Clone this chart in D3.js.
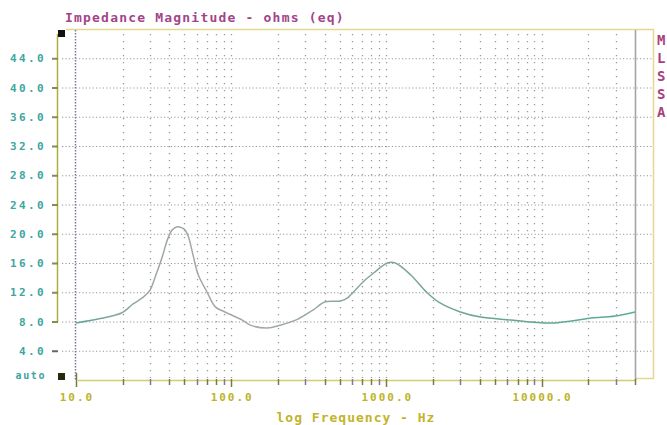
<!DOCTYPE html>
<html>
<head>
<meta charset="utf-8">
<script src="https://cdn.jsdelivr.net/npm/d3@7"></script>
<style>
body { margin: 0; background: #fff; }
text { font-family: "DejaVu Sans Mono", "Liberation Mono", monospace; font-weight: bold; }
</style>
</head>
<body>
<script>
// impedance curve
var freq = [10, 14.3, 19.8, 23.3, 27, 30, 32.5, 35.9, 39, 41.6, 44, 47, 50, 53, 56.9, 61.3, 70, 79, 91, 118, 133, 171,
    207, 267, 338, 404, 505, 560, 604, 732, 824, 1015, 1140, 1430, 1840, 2230, 3000, 4040, 6310, 8880, 11950,
    21650, 30920, 40000];
var ohms = [7.8, 8.4, 9.2, 10.4, 11.3, 12.3, 14.2, 16.8, 19.3, 20.5, 20.9, 20.9, 20.6, 19.6, 17.0, 14.4, 12.0, 10.0, 9.3, 8.2, 7.5, 7.1,
    7.5, 8.3, 9.6, 10.7, 10.8, 11.2, 11.9, 13.7, 14.6, 16.0, 16.0, 14.4, 11.9, 10.5, 9.3, 8.6, 8.2, 7.9, 7.8,
    8.5, 8.8, 9.3];

var yTicks = [4, 8, 12, 16, 20, 24, 28, 32, 36, 40, 44];
var xMajor = [10, 100, 1000, 10000];
var legendLetters = ['M', 'L', 'S', 'S', 'A'];

var width = 667, height = 425;

var svg = d3.select('body').append('svg')
    .attr('width', width)
    .attr('height', height);

var x = d3.scaleLog()
    .domain([10, 40000])
    .range([76, 635]);

var y = d3.scaleLinear()
    .domain([0, 48])
    .range([380, 29]);

var olive = '#aeae3c';
var grid = '#999999';

// outer frame (top and right)
svg.append('path')
    .attr('d', 'M66,29.5H653.5V378.5H636')
    .attr('fill', 'none')
    .attr('stroke', '#e2d890')
    .attr('stroke-width', 1.5);

// horizontal grid
svg.selectAll('.hgrid')
    .data(yTicks)
    .enter().append('line')
    .attr('class', 'hgrid')
    .attr('x1', 62).attr('x2', 652)
    .attr('y1', function(d) { return y(d) + 0.5; })
    .attr('y2', function(d) { return y(d) + 0.5; })
    .attr('stroke', grid)
    .attr('stroke-width', 1.2)
    .attr('stroke-dasharray', '1.2,2.2');

// vertical grid at every log tick
var xt = x.ticks().filter(function(d) { return d > 10 && d < 40000; });
svg.selectAll('.vgrid')
    .data(xt)
    .enter().append('line')
    .attr('class', 'vgrid')
    .attr('x1', function(d) { return Math.round(x(d)) + 0.5; })
    .attr('x2', function(d) { return Math.round(x(d)) + 0.5; })
    .attr('y1', 34).attr('y2', 378)
    .attr('stroke', grid)
    .attr('stroke-width', 1.3)
    .attr('stroke-dasharray', '1.3,5.7');

// left border of the plot (dense dots) and right edge line
svg.append('line')
    .attr('x1', 75.5).attr('x2', 75.5)
    .attr('y1', 30).attr('y2', 380)
    .attr('stroke', '#7a7890')
    .attr('stroke-width', 1.5)
    .attr('stroke-dasharray', '1.5,1.5');

svg.append('line')
    .attr('x1', x(40000) + 0.5).attr('x2', x(40000) + 0.5)
    .attr('y1', 30).attr('y2', 380)
    .attr('stroke', '#a4a4a4')
    .attr('stroke-width', 1.6);

// y axis line with ticks
svg.append('line')
    .attr('x1', 57.5).attr('x2', 57.5)
    .attr('y1', 34).attr('y2', y(8) + 1)
    .attr('stroke', olive)
    .attr('stroke-width', 1.5);

svg.selectAll('.ytick')
    .data(yTicks)
    .enter().append('line')
    .attr('class', 'ytick')
    .attr('x1', 52).attr('x2', 58)
    .attr('y1', function(d) { return y(d) + 0.5; })
    .attr('y2', function(d) { return y(d) + 0.5; })
    .attr('stroke', function(d) { return d === 4 ? '#666' : '#7f8f52'; })
    .attr('stroke-width', 2);

svg.selectAll('.ylab')
    .data(yTicks)
    .enter().append('text')
    .attr('class', 'ylab')
    .attr('x', 46)
    .attr('y', function(d) { return y(d) + 4; })
    .attr('text-anchor', 'end')
    .attr('fill', '#3ea6a0')
    .style('font-size', '11px')
    .style('letter-spacing', '2.4px')
    .text(function(d) { return d3.format('.1f')(d); });

svg.append('text')
    .attr('x', 46).attr('y', y(0) - 1)
    .attr('text-anchor', 'end')
    .attr('fill', '#3ea6a0')
    .style('font-size', '10px')
    .style('letter-spacing', '1.6px')
    .text('auto');

// black end markers
svg.append('rect').attr('x', 58).attr('y', 30).attr('width', 7).attr('height', 7).attr('fill', '#111');
svg.append('rect').attr('x', 58).attr('y', 373).attr('width', 7).attr('height', 7).attr('fill', '#222a10');

// x axis line and ticks
svg.append('line')
    .attr('x1', 78).attr('x2', x(40000))
    .attr('y1', 380.5).attr('y2', 380.5)
    .attr('stroke', '#d4cc70')
    .attr('stroke-width', 1.5);

svg.selectAll('.xtick')
    .data(x.ticks())
    .enter().append('line')
    .attr('class', 'xtick')
    .attr('x1', function(d) { return Math.round(x(d)) + 0.5; })
    .attr('x2', function(d) { return Math.round(x(d)) + 0.5; })
    .attr('y1', function(d) { return d === 10 ? 373 : 379; })
    .attr('y2', function(d) { return xMajor.indexOf(d) >= 0 ? 387 : 385; })
    .attr('stroke', function(d, i) { return i % 3 === 2 ? '#8a72a0' : '#7c7a44'; })
    .attr('stroke-width', 1.5);

svg.selectAll('.xlab')
    .data(xMajor)
    .enter().append('text')
    .attr('class', 'xlab')
    .attr('x', function(d) { return x(d) + 1; })
    .attr('y', 401)
    .attr('text-anchor', 'middle')
    .attr('fill', '#bcb428')
    .style('font-size', '11px')
    .style('letter-spacing', '2px')
    .text(function(d) { return d3.format('.1f')(d); });

svg.append('text')
    .attr('x', 356).attr('y', 422)
    .attr('text-anchor', 'middle')
    .attr('fill', '#c2b42a')
    .style('font-size', '13px')
    .style('letter-spacing', '1px')
    .text('log Frequency - Hz');

// title
svg.append('text')
    .attr('x', 65).attr('y', 22)
    .attr('fill', '#a2448a')
    .style('font-size', '13px')
    .style('letter-spacing', '1.2px')
    .text('Impedance Magnitude - ohms (eq)');

// legend letters on the right
svg.selectAll('.leg')
    .data(legendLetters)
    .enter().append('text')
    .attr('class', 'leg')
    .attr('x', 657)
    .attr('y', function(d, i) { return 45 + i * 18; })
    .attr('fill', '#a8407e')
    .style('font-size', '14px')
    .text(function(d) { return d; });

// curve
var grad = svg.append('defs').append('linearGradient')
    .attr('id', 'cg')
    .attr('gradientUnits', 'userSpaceOnUse')
    .attr('x1', x(10)).attr('x2', x(40000))
    .attr('y1', 0).attr('y2', 0);
grad.append('stop').attr('offset', '0').attr('stop-color', '#62a49a');
grad.append('stop').attr('offset', '0.12').attr('stop-color', '#9aa8a4');
grad.append('stop').attr('offset', '0.3').attr('stop-color', '#a8a8a8');
grad.append('stop').attr('offset', '0.5').attr('stop-color', '#8aa89c');
grad.append('stop').attr('offset', '0.7').attr('stop-color', '#6aa494');
grad.append('stop').attr('offset', '1').attr('stop-color', '#58ac9a');

var line = d3.line()
    .x(function(d, i) { return x(freq[i]); })
    .y(function(d) { return y(d); })
    .curve(d3.curveCatmullRom.alpha(0.5));

svg.append('path')
    .datum(ohms)
    .attr('d', line)
    .attr('fill', 'none')
    .attr('stroke', 'url(#cg)')
    .attr('stroke-width', 1.5);
</script>
</body>
</html>
